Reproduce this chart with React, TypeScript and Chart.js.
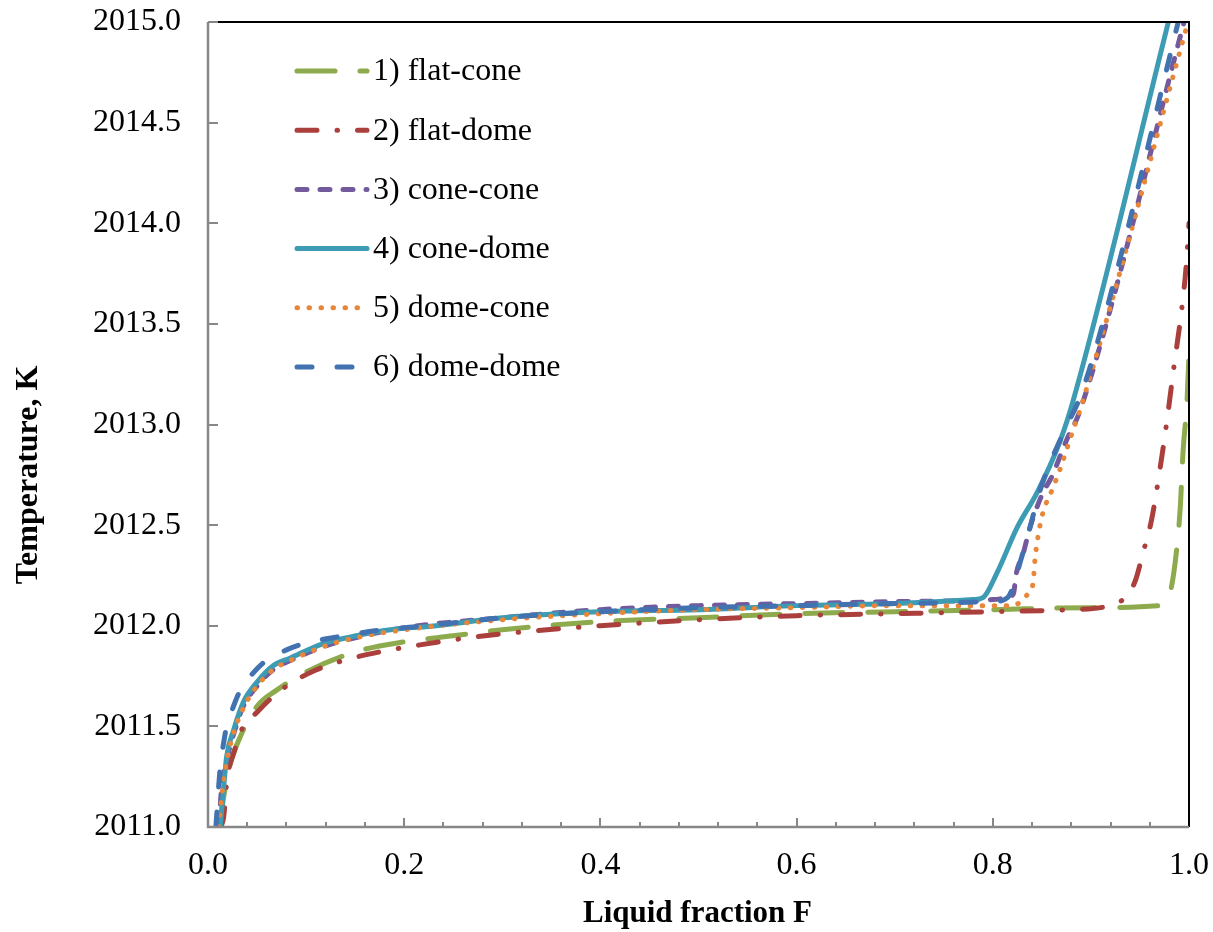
import React, { useEffect, useRef } from "react";
import { Chart, registerables } from "chart.js";

Chart.register(...registerables);

// ---------- data ----------
const seriesNames = [
  "1) flat-cone",
  "2) flat-dome",
  "3) cone-cone",
  "4) cone-dome",
  "5) dome-cone",
  "6) dome-dome",
];

const xAxisTitle = "Liquid fraction F";
const yAxisTitle = "Temperature, K";

const xTickValues = [0, 0.2, 0.4, 0.6, 0.8, 1.0];
const yTickValues = [2011, 2011.5, 2012, 2012.5, 2013, 2013.5, 2014, 2014.5, 2015];

const flatConeF = [0.012, 0.016, 0.022, 0.033, 0.05, 0.07, 0.1, 0.15, 0.2, 0.25, 0.3, 0.4, 0.5, 0.6, 0.7, 0.8, 0.9, 0.97, 0.978, 0.982, 0.987, 0.991, 0.994, 0.998, 1.0];
const flatConeT = [2011.0, 2011.15, 2011.3, 2011.45, 2011.6, 2011.68, 2011.77, 2011.87, 2011.92, 2011.95, 2011.98, 2012.02, 2012.04, 2012.06, 2012.07, 2012.08, 2012.09, 2012.1, 2012.13, 2012.19, 2012.36, 2012.58, 2012.87, 2013.12, 2013.35];

const flatDomeF = [0.013, 0.016, 0.019, 0.027, 0.036, 0.05, 0.06, 0.08, 0.11, 0.14, 0.175, 0.21, 0.25, 0.3, 0.4, 0.5, 0.6, 0.7, 0.8, 0.88, 0.91, 0.925, 0.935, 0.945, 0.953, 0.962, 0.972, 0.977, 0.985, 0.992, 0.997, 1.0];
const flatDomeT = [2011.0, 2011.05, 2011.22, 2011.38, 2011.5, 2011.57, 2011.62, 2011.7, 2011.78, 2011.83, 2011.87, 2011.9, 2011.93, 2011.96, 2012.0, 2012.03, 2012.05, 2012.06, 2012.07, 2012.08, 2012.09, 2012.11, 2012.14, 2012.22, 2012.36, 2012.53, 2012.83, 2013.0, 2013.3, 2013.55, 2013.78, 2014.0];

const coneConeF = [0.011, 0.014, 0.019, 0.026, 0.036, 0.05, 0.066, 0.085, 0.12, 0.15, 0.2, 0.3, 0.4, 0.5, 0.6, 0.7, 0.8, 0.815, 0.821, 0.824, 0.831, 0.838, 0.851, 0.86, 0.875, 0.889, 0.995];
const coneConeT = [2011.0, 2011.2, 2011.33, 2011.46, 2011.6, 2011.7, 2011.78, 2011.83, 2011.9, 2011.94, 2011.99, 2012.04, 2012.08, 2012.1, 2012.11, 2012.12, 2012.13, 2012.14, 2012.16, 2012.26, 2012.36, 2012.49, 2012.66, 2012.74, 2012.92, 2013.07, 2015.0];

const coneDomeF = [0.0125, 0.016, 0.019, 0.026, 0.036, 0.05, 0.066, 0.084, 0.117, 0.151, 0.186, 0.233, 0.3, 0.4, 0.5, 0.6, 0.7, 0.78, 0.79, 0.804, 0.825, 0.845, 0.868, 0.882, 0.979];
const coneDomeT = [2011.0, 2011.2, 2011.35, 2011.48, 2011.62, 2011.72, 2011.8, 2011.84, 2011.91, 2011.95, 2011.98, 2012.0, 2012.04, 2012.07, 2012.08, 2012.1, 2012.11, 2012.13, 2012.14, 2012.26, 2012.49, 2012.66, 2012.91, 2013.12, 2015.0];

const domeConeF = [0.011, 0.015, 0.02, 0.027, 0.037, 0.05, 0.066, 0.085, 0.12, 0.15, 0.2, 0.3, 0.4, 0.5, 0.6, 0.7, 0.8, 0.817, 0.829, 0.836, 0.841, 0.843, 0.846, 0.851, 0.86, 0.868, 0.881, 0.892, 0.999];
const domeConeT = [2011.0, 2011.2, 2011.35, 2011.48, 2011.6, 2011.7, 2011.78, 2011.83, 2011.9, 2011.94, 2011.98, 2012.03, 2012.06, 2012.08, 2012.09, 2012.1, 2012.1, 2012.1, 2012.12, 2012.16, 2012.21, 2012.33, 2012.44, 2012.56, 2012.67, 2012.77, 2012.96, 2013.12, 2015.0];

const domeDomeF = [0.008, 0.0125, 0.016, 0.019, 0.026, 0.033, 0.045, 0.06, 0.08, 0.097, 0.138, 0.178, 0.223, 0.3, 0.4, 0.5, 0.6, 0.7, 0.8, 0.815, 0.83, 0.85, 0.872, 0.89, 0.922, 0.989];
const domeDomeT = [2011.0, 2011.3, 2011.42, 2011.5, 2011.6, 2011.68, 2011.76, 2011.83, 2011.88, 2011.91, 2011.95, 2011.98, 2012.0, 2012.04, 2012.07, 2012.09, 2012.1, 2012.11, 2012.12, 2012.14, 2012.35, 2012.7, 2012.96, 2013.15, 2013.68, 2015.0];

// ---------- styles ----------
const seriesColors = ["#8DAA4C", "#AA3F3C", "#735A9C", "#3D9BB3", "#E8873A", "#4272B0"];
const seriesDashes: number[][] = [
  [38, 25],
  [20, 20, 0.5, 20],
  [10, 13],
  [],
  [0.5, 11.5],
  [15, 25],
];
const seriesWidths = [5, 5, 5, 5, 5, 5];

const FONT = "'Liberation Serif', 'Times New Roman', serif";

function zip(xs: number[], ys: number[]) {
  const n = Math.min(xs.length, ys.length);
  const out: { x: number; y: number }[] = [];
  for (let i = 0; i < n; i++) out.push({ x: xs[i], y: ys[i] });
  return out;
}

const framePlugin = {
  id: "frameTicks",
  afterDatasetsDraw(chart: any) {
    const { ctx, chartArea: a, scales } = chart;
    const xs = scales.x;
    const ys = scales.y;
    ctx.save();
    ctx.lineCap = "butt";
    ctx.setLineDash([]);
    // top / right border
    ctx.strokeStyle = "#000000";
    ctx.lineWidth = 2;
    ctx.beginPath();
    ctx.moveTo(a.left, a.top);
    ctx.lineTo(a.right, a.top);
    ctx.lineTo(a.right, a.bottom);
    ctx.stroke();
    // gray axes
    ctx.strokeStyle = "#878787";
    ctx.lineWidth = 2.5;
    ctx.beginPath();
    ctx.moveTo(a.left, a.top);
    ctx.lineTo(a.left, a.bottom);
    ctx.lineTo(a.right, a.bottom);
    ctx.stroke();
    // y major ticks (inside)
    ctx.lineWidth = 2;
    ctx.beginPath();
    for (const v of yTickValues) {
      const py = Math.round(ys.getPixelForValue(v));
      ctx.moveTo(a.left, py);
      ctx.lineTo(a.left + 10, py);
    }
    // x major + minor ticks (inside)
    for (let i = 0; i < xTickValues.length - 1; i++) {
      const v0 = xTickValues[i];
      const v1 = xTickValues[i + 1];
      for (let k = 0; k < 5; k++) {
        const v = v0 + ((v1 - v0) * k) / 5;
        const px = Math.round(xs.getPixelForValue(v));
        const len = k === 0 ? 9 : 5;
        ctx.moveTo(px, a.bottom);
        ctx.lineTo(px, a.bottom - len);
      }
    }
    ctx.stroke();
    ctx.restore();
  },
  afterDraw(chart: any) {
    const { ctx, chartArea: a } = chart;
    ctx.save();
    // legend
    const x0 = a.left + 89;
    const x1 = a.left + 159;
    const y0 = a.top + 49;
    const dy = 59.2;
    ctx.font = `32px ${FONT}`;
    ctx.textBaseline = "middle";
    ctx.textAlign = "left";
    for (let i = 0; i < seriesNames.length; i++) {
      const y = y0 + i * dy;
      ctx.strokeStyle = seriesColors[i];
      ctx.lineWidth = seriesWidths[i];
      ctx.lineCap = "round";
      ctx.setLineDash(seriesDashes[i]);
      ctx.beginPath();
      ctx.moveTo(x0, y);
      ctx.lineTo(x1, y);
      ctx.stroke();
      ctx.setLineDash([]);
      ctx.fillStyle = "#000000";
      ctx.fillText(seriesNames[i], x1 + 6, y + 1);
    }
    // axis titles
    ctx.font = `bold 31px ${FONT}`;
    ctx.fillStyle = "#000000";
    ctx.textAlign = "center";
    ctx.textBaseline = "alphabetic";
    ctx.fillText(xAxisTitle, (a.left + a.right) / 2 - 1, 922);
    ctx.save();
    ctx.translate(37, 475);
    ctx.rotate(-Math.PI / 2);
    ctx.font = `bold 32px ${FONT}`;
    ctx.fillText(yAxisTitle, 0, 0);
    ctx.restore();
    ctx.restore();
  },
};

export default function App() {
  const ref = useRef<HTMLCanvasElement | null>(null);

  useEffect(() => {
    if (!ref.current) return;
    const allF = [flatConeF, flatDomeF, coneConeF, coneDomeF, domeConeF, domeDomeF];
    const allT = [flatConeT, flatDomeT, coneConeT, coneDomeT, domeConeT, domeDomeT];
    const datasets = seriesNames.map((name, i) => ({
      label: name,
      data: zip(allF[i], allT[i]),
      borderColor: seriesColors[i],
      backgroundColor: seriesColors[i],
      borderWidth: seriesWidths[i],
      borderDash: seriesDashes[i],
      borderCapStyle: "round" as const,
      borderJoinStyle: "round" as const,
      pointRadius: 0,
      pointHoverRadius: 0,
      fill: false,
      cubicInterpolationMode: "monotone" as const,
      order: seriesNames.length - i,
    }));

    const chart = new Chart(ref.current, {
      type: "line",
      data: { datasets },
      plugins: [framePlugin],
      options: {
        animation: false,
        responsive: true,
        maintainAspectRatio: false,
        layout: { padding: 0 },
        plugins: { legend: { display: false }, tooltip: { enabled: false } },
        scales: {
          x: {
            type: "linear",
            min: 0,
            max: 1,
            afterBuildTicks: (scale: any) => {
              scale.ticks = xTickValues.map((v) => ({ value: v }));
            },
            afterFit: (scale: any) => {
              scale.height = 105;
              scale.paddingLeft = 0;
              scale.paddingRight = 24;
            },
            ticks: {
              callback: (v: any) => Number(v).toFixed(1),
              font: { family: FONT, size: 32 },
              color: "#000000",
              padding: 19,
              maxRotation: 0,
              autoSkip: false,
            },
            grid: { display: false, drawTicks: false },
            border: { display: false },
            title: { display: false },
          },
          y: {
            type: "linear",
            min: 2011,
            max: 2015,
            afterBuildTicks: (scale: any) => {
              scale.ticks = yTickValues.map((v) => ({ value: v }));
            },
            afterFit: (scale: any) => {
              scale.width = 208;
              scale.paddingTop = 22;
              scale.paddingBottom = 0;
            },
            ticks: {
              callback: (v: any) => Number(v).toFixed(1),
              font: { family: FONT, size: 32 },
              color: "#000000",
              padding: 27,
              autoSkip: false,
            },
            grid: { display: false, drawTicks: false },
            border: { display: false },
            title: { display: false },
          },
        },
      },
    });
    return () => chart.destroy();
  }, []);

  return (
    <div style={{ position: "fixed", left: 0, top: 0, width: 1213, height: 932, background: "#ffffff" }}>
      <canvas ref={ref} />
    </div>
  );
}
